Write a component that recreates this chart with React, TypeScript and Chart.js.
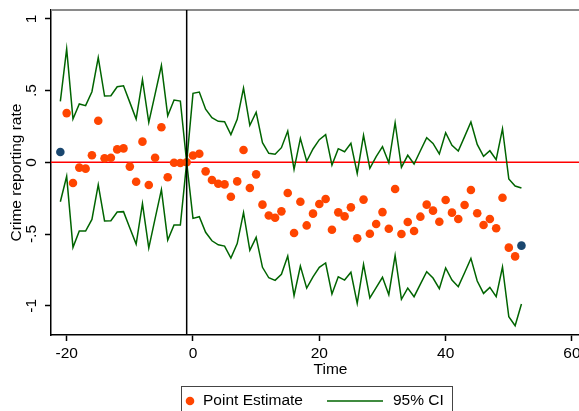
import React, { useEffect, useRef } from 'react';
import { Chart, registerables } from 'chart.js';

Chart.register(...registerables);

// ---- data ----
const ciTime = [-21, -20, -19, -18, -17, -16, -15, -14, -13, -12, -11, -10, -9, -8, -7, -6, -5, -4, -3, -2, -1, 0, 1, 2, 3, 4, 5, 6, 7, 8, 9, 10, 11, 12, 13, 14, 15, 16, 17, 18, 19, 20, 21, 22, 23, 24, 25, 26, 27, 28, 29, 30, 31, 32, 33, 34, 35, 36, 37, 38, 39, 40, 41, 42, 43, 44, 45, 46, 47, 48, 49, 50, 51, 52];
const upperCI = [0.425, 0.79, 0.302, 0.407, 0.395, 0.492, 0.73, 0.462, 0.464, 0.527, 0.534, 0.418, 0.302, 0.576, 0.279, 0.476, 0.675, 0.325, 0.434, 0.427, 0, 0.481, 0.49, 0.37, 0.311, 0.286, 0.283, 0.193, 0.3, 0.518, 0.258, 0.349, 0.137, 0.063, 0.056, 0.102, 0.218, -0.049, 0.167, 0.007, 0.093, 0.158, 0.193, -0.019, 0.095, 0.074, 0.132, -0.077, 0.188, -0.042, 0.04, 0.109, -0.003, 0.276, -0.035, 0.049, -0.012, 0.081, 0.172, 0.132, 0.058, 0.206, 0.118, 0.079, 0.179, 0.281, 0.125, 0.042, 0.081, 0.018, 0.234, -0.116, -0.165, -0.179];
const lowerCI = [-0.275, -0.098, -0.593, -0.479, -0.479, -0.398, -0.156, -0.409, -0.407, -0.347, -0.344, -0.458, -0.57, -0.288, -0.598, -0.393, -0.191, -0.542, -0.437, -0.437, 0, -0.391, -0.379, -0.488, -0.547, -0.575, -0.584, -0.667, -0.567, -0.351, -0.614, -0.523, -0.732, -0.805, -0.823, -0.781, -0.653, -0.93, -0.723, -0.877, -0.798, -0.732, -0.702, -0.918, -0.798, -0.821, -0.767, -0.983, -0.711, -0.946, -0.874, -0.802, -0.923, -0.649, -0.955, -0.877, -0.937, -0.849, -0.763, -0.807, -0.881, -0.737, -0.821, -0.867, -0.77, -0.67, -0.828, -0.914, -0.872, -0.937, -0.73, -1.077, -1.139, -0.988];
const estTime = [-20, -19, -18, -17, -16, -15, -14, -13, -12, -11, -10, -9, -8, -7, -6, -5, -4, -3, -2, -1, 0, 1, 2, 3, 4, 5, 6, 7, 8, 9, 10, 11, 12, 13, 14, 15, 16, 17, 18, 19, 20, 21, 22, 23, 24, 25, 26, 27, 28, 29, 30, 31, 32, 33, 34, 35, 36, 37, 38, 39, 40, 41, 42, 43, 44, 45, 46, 47, 48, 49, 50, 51];
const pointEstimate = [0.343, -0.144, -0.037, -0.044, 0.049, 0.29, 0.028, 0.032, 0.09, 0.097, -0.03, -0.135, 0.144, -0.158, 0.032, 0.244, -0.104, -0.003, -0.005, 0, 0.048, 0.06, -0.063, -0.123, -0.149, -0.154, -0.24, -0.133, 0.086, -0.179, -0.084, -0.295, -0.371, -0.386, -0.342, -0.214, -0.493, -0.275, -0.44, -0.358, -0.291, -0.256, -0.47, -0.349, -0.377, -0.314, -0.53, -0.26, -0.498, -0.43, -0.347, -0.463, -0.186, -0.5, -0.416, -0.479, -0.379, -0.295, -0.337, -0.414, -0.263, -0.351, -0.395, -0.298, -0.193, -0.355, -0.437, -0.395, -0.46, -0.247, -0.595, -0.656];
const endTime = [-21, 52];
const endValues = [0.072, -0.581];
const xTicks = [-20, 0, 20, 40, 60];
const yTicks = [-1, -0.5, 0, 0.5, 1];
const yTickLabels = ['-1', '-.5', '0', '.5', '1'];
const refX = -1;
const refY = 0;
const legendLabels = ['Point Estimate', '95% CI'];

const FONT = "'Liberation Sans', Arial, Helvetica, sans-serif";
const ORANGE = '#FF4500';
const NAVY = '#1A476F';
const GREEN = '#006400';

const pairs = (xs: number[], ys: number[]) => xs.map((x, i) => ({ x, y: ys[i] }));

const decorPlugin = {
  id: 'decor',
  beforeDatasetsDraw(chart: any) {
    const { ctx, chartArea, scales } = chart;
    const y0 = scales.y.getPixelForValue(refY);
    ctx.save();
    ctx.strokeStyle = '#FF0000';
    ctx.lineWidth = 1.6;
    ctx.beginPath();
    ctx.moveTo(chartArea.left, y0);
    ctx.lineTo(chartArea.right, y0);
    ctx.stroke();
    // top border of plot region
    ctx.strokeStyle = '#8a8a8a';
    ctx.lineWidth = 2;
    ctx.beginPath();
    ctx.moveTo(chartArea.left, chartArea.top);
    ctx.lineTo(chart.width, chartArea.top);
    ctx.stroke();
    ctx.restore();
  },
  afterDatasetsDraw(chart: any) {
    const { ctx, chartArea, scales } = chart;
    const x0 = scales.x.getPixelForValue(refX);
    ctx.save();
    ctx.strokeStyle = '#000000';
    ctx.lineWidth = 1.5;
    ctx.beginPath();
    ctx.moveTo(x0, chartArea.top);
    ctx.lineTo(x0, chartArea.bottom);
    ctx.stroke();
    ctx.restore();
  },
  afterDraw(chart: any) {
    const { ctx } = chart;
    ctx.save();
    // legend box
    ctx.strokeStyle = '#444';
    ctx.lineWidth = 1;
    ctx.strokeRect(181.5, 386.5, 271, 40);
    const cy = 401;
    ctx.fillStyle = ORANGE;
    ctx.beginPath();
    ctx.arc(190, cy, 4.3, 0, Math.PI * 2);
    ctx.fill();
    ctx.fillStyle = '#000';
    ctx.font = `15.5px ${FONT}`;
    ctx.textBaseline = 'middle';
    ctx.textAlign = 'left';
    ctx.fillText(legendLabels[0], 203, cy);
    ctx.strokeStyle = GREEN;
    ctx.lineWidth = 1.5;
    ctx.beginPath();
    ctx.moveTo(327, cy);
    ctx.lineTo(383, cy);
    ctx.stroke();
    ctx.fillText(legendLabels[1], 393, cy);
    ctx.restore();
  },
};

export default function App() {
  const ref = useRef<HTMLCanvasElement | null>(null);
  useEffect(() => {
    if (!ref.current) return;
    const chart = new Chart(ref.current, {
      type: 'scatter',
      data: {
        datasets: [
          {
            label: 'upper',
            data: pairs(ciTime, upperCI),
            showLine: true,
            borderColor: GREEN,
            borderWidth: 1.5,
            pointRadius: 0,
            tension: 0,
          },
          {
            label: 'lower',
            data: pairs(ciTime, lowerCI),
            showLine: true,
            borderColor: GREEN,
            borderWidth: 1.5,
            pointRadius: 0,
            tension: 0,
          },
          {
            label: 'Point Estimate',
            data: pairs(estTime, pointEstimate),
            backgroundColor: ORANGE,
            borderWidth: 0,
            pointRadius: 4.3,
          },
          {
            label: 'ends',
            data: pairs(endTime, endValues),
            backgroundColor: NAVY,
            borderWidth: 0,
            pointRadius: 4.3,
          },
        ],
      },
      options: {
        animation: false,
        responsive: false,
        devicePixelRatio: 1,
        layout: { padding: { top: 10, left: 0, right: 10, bottom: 32 } },
        plugins: { legend: { display: false }, tooltip: { enabled: false } },
        scales: {
          x: {
            type: 'linear',
            min: -22.48,
            max: 66.02,
            afterBuildTicks: (s: any) => { s.ticks = xTicks.map((v) => ({ value: v })); },
            afterFit: (s: any) => { s.height = 44; s.paddingLeft = 0; s.paddingRight = 0; },
            grid: { drawOnChartArea: false, drawTicks: true, tickLength: 6, tickColor: '#000', tickWidth: 1.5 },
            border: { display: true, color: '#000', width: 1.5 },
            ticks: { color: '#000', font: { family: FONT, size: 15.5 }, padding: 3, maxRotation: 0, minRotation: 0, autoSkip: false },
            title: { display: true, text: 'Time', color: '#000', font: { family: FONT, size: 15.5 }, padding: { top: 0, bottom: 0 } },
          },
          y: {
            type: 'linear',
            min: -1.204,
            max: 1.062,
            afterBuildTicks: (s: any) => { s.ticks = yTicks.map((v) => ({ value: v })); },
            afterFit: (s: any) => { s.width = 51; s.paddingTop = 0; s.paddingBottom = 0; },
            grid: { drawOnChartArea: false, drawTicks: true, tickLength: 6, tickColor: '#000', tickWidth: 1.5 },
            border: { display: true, color: '#000', width: 1.5 },
            ticks: {
              color: '#000',
              font: { family: FONT, size: 15.5 },
              padding: 4,
              minRotation: 90,
              maxRotation: 90,
              crossAlign: 'center',
              autoSkip: false,
              callback: (v: any) => {
                const i = yTicks.indexOf(Number(v));
                return i >= 0 ? yTickLabels[i] : '';
              },
            },
            title: { display: true, text: 'Crime reporting rate', color: '#000', font: { family: FONT, size: 15.5 }, padding: { top: 7, bottom: 0 } },
          },
        },
      },
      plugins: [decorPlugin],
    } as any);
    return () => chart.destroy();
  }, []);
  return (
    <div style={{ position: 'fixed', left: 0, top: 0, width: 579, height: 411, overflow: 'hidden', background: '#fff' }}>
      <canvas ref={ref} width={620} height={411} style={{ display: 'block' }} />
    </div>
  );
}
